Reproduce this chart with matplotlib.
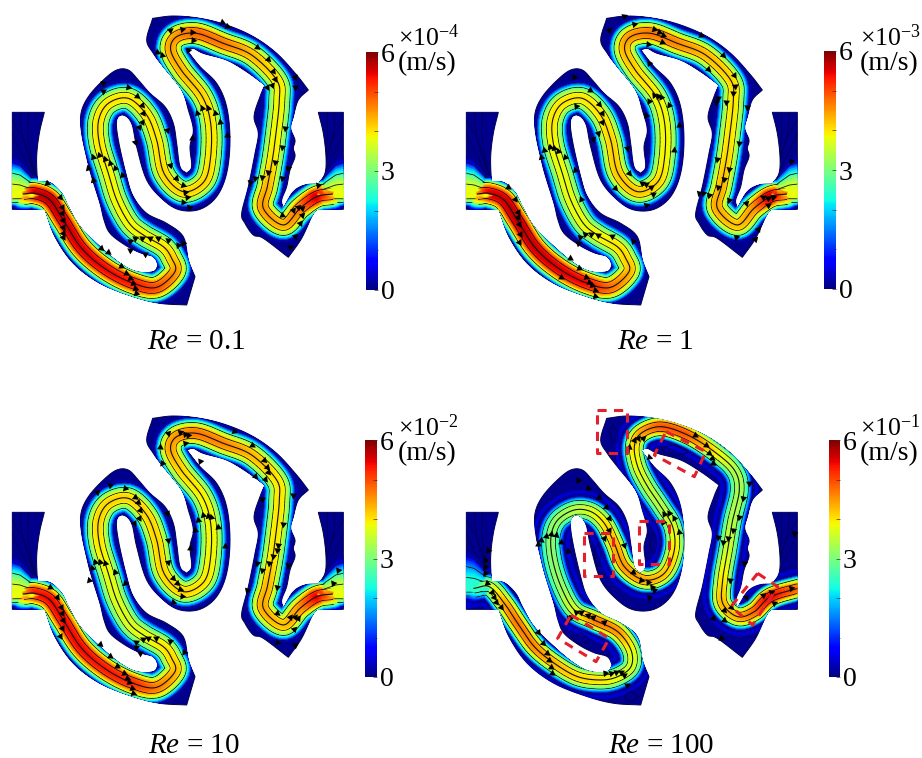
import numpy as np
import matplotlib
matplotlib.use("Agg")
import matplotlib.pyplot as plt
from matplotlib.collections import LineCollection
from matplotlib.patches import Polygon
from matplotlib.cm import ScalarMappable
from matplotlib.colors import Normalize

plt.rcParams['font.family'] = ['Liberation Serif', 'DejaVu Serif']
plt.rcParams['mathtext.fontset'] = 'custom'
plt.rcParams['mathtext.rm'] = 'Liberation Serif'
plt.rcParams['mathtext.it'] = 'Liberation Serif:italic'

# channel wall (3x zoom pixels)
wall_x = [37,133,118,110,112,150,185,205,240,300,360,410,460,475,460,420,375,330,312,300,275,262,245,243,265,310,350,385,415,450,495,520,530,540,560,575,570,580,565,545,490,460,440,458,520,600,680,760,830,890,925,895,880,872,885,880,885,870,860,845,850,880,915,955,975,978,970,955,1030,1030,950,935,905,865,790,760,735,725,745,765,775,762,780,795,740,680,610,580,560,600,650,680,690,680,650,600,540,490,440,410,395,370,350,355,380,400,440,500,550,565,585,560,480,400,300,220,165,135,37]
wall_y = [337,337,400,470,545,548,580,620,680,740,790,815,815,795,770,758,735,700,660,610,530,480,400,340,290,240,210,210,240,280,320,370,430,500,520,500,440,390,330,270,200,160,120,55,48,55,75,110,160,225,270,300,350,385,420,445,470,510,560,600,625,575,555,552,520,470,400,337,337,628,628,650,715,772,715,705,670,640,560,460,400,350,290,255,215,180,160,145,150,200,250,320,420,520,590,628,630,600,540,440,370,345,360,420,530,590,640,670,710,780,830,915,910,890,850,790,710,628,628]
wall_corners = [(37,337),(133,337),(112,545),(475,795),(560,915),(585,830),(458,55),(925,270),(850,625),(955,337),(1030,337),(1030,628),(950,628),(865,772),(135,628),(37,628),(560,520),(560,150),(795,255),(955,552)]

# channel centre line and centre speed, Re = 0.1, 1, 10
center_x = [70,105,150,190,245,318,400,470,525,515,490,430,388,350,325,298,296,325,385,440,470,492,550,612,632,632,607,545,512,530,590,670,755,830,838,828,817,802,790,850,900,950,997]
center_y = [582,580,600,660,745,808,850,862,815,775,740,705,670,600,520,430,360,310,295,345,420,520,575,545,470,370,290,212,150,110,100,130,165,240,300,400,480,560,625,675,625,590,582]
speed_01 = [4.4,5.6,5.7,5.6,5.5,5.4,5.3,5.0,4.5,4.2,4.0,3.9,3.9,3.9,3.9,4.0,4.0,4.0,4.0,4.0,4.0,4.1,4.1,4.1,4.0,4.0,4.1,4.3,4.4,4.5,4.8,4.7,4.3,4.0,3.9,3.9,4.0,4.3,4.5,4.3,4.7,5.6,4.6]
speed_1 = [4.4,5.5,5.6,5.7,5.6,5.5,5.4,4.8,4.3,4.1,4.0,3.9,3.8,3.8,3.8,3.9,4.0,4.0,4.0,4.0,4.1,4.2,4.2,4.1,3.9,3.9,3.9,4.1,4.3,4.5,4.7,4.6,4.3,4.1,4.0,4.0,4.1,4.3,4.4,4.2,4.5,5.7,4.6]
speed_10 = [4.4,5.3,5.4,5.4,5.4,5.3,5.2,4.7,4.3,4.1,4.0,3.8,3.7,3.7,3.8,4.0,4.1,4.1,4.1,4.1,4.1,4.1,4.1,4.0,3.9,3.9,3.9,4.1,4.4,4.5,4.7,4.6,4.3,4.0,4.0,4.0,4.0,4.3,4.4,4.2,4.5,5.5,4.6]

# centre line is different at Re = 100
center_x_100 = [60,106,151,191,241,301,371,441,491,531,531,491,421,361,321,296,291,311,361,411,451,481,511,571,631,661,656,621,581,551,541,561,621,701,781,841,856,836,821,806,806,851,901,951,1051]
center_y_100 = [565,560,610,670,740,790,830,840,830,800,750,695,660,630,560,480,410,360,330,335,370,430,500,540,520,450,380,320,260,200,140,100,80,105,155,210,270,360,450,540,610,650,635,590,560]
speed_100 = [2.4,3.5,4.4,4.7,4.6,4.3,4.1,4.0,3.8,3.6,3.8,4.5,4.7,3.7,3.2,3.1,3.1,3.2,3.4,3.7,4.0,4.3,4.5,4.4,4.2,4.0,3.7,3.4,3.5,3.8,4.0,4.4,4.9,4.9,4.0,3.4,3.3,3.4,3.6,4.0,4.3,4.3,4.8,5.5,4.6]

# contour bands across the channel: stroke width in px and share of the centre speed
band_width = [36,34,32,30,28,26,24,22,20,18,16,14,12,10,8,6,4,2]
band_share = [.03,.08,.16,.25,.36,.47,.56,.64,.71,.78,.84,.89,.93,.96,.98,.99,1.0,1.0]
stream_width = [30,20,10]

# inlet fan and the streamlines in the side blocks
fan_center = [585,585,585,565]
fan_top_x = [20,60,90,115]
fan_top_y = [-125,-108,-70,-32]
fan_low_y = [42,40,36,32]
block_lines_x = [[37,60,90,112],[37,70,95,112],[85,85,100,112],[62,66,88,112]]
block_lines_y = [[400,450,510,548],[360,420,500,545],[337,420,500,545],[337,400,470,545]]

# arrowheads, in the 3x zoom of each panel
arrow_01_x = [140,180,185,187,188,188,190,190,303,325,362,378,390,398,405,408,390,405,425,450,475,505,535,548,390,435,263,280,280,297,315,330,345,365,310,308,385,410,425,430,425,418,405,510,527,548,555,562,550,567,500,575,590,605,625,645,660,680,470,485,510,545,575,580,565,665,680,770,805,820,825,800,815,885,885,855,845,825,805,785,765,750,865,845,955,845,880,895,905,905,900,885,870]
arrow_01_y = [548,590,620,640,660,680,700,710,743,755,797,818,835,850,865,880,722,715,713,715,715,720,735,728,750,762,505,540,470,465,478,490,505,525,250,272,260,287,315,340,365,380,425,495,535,555,575,590,607,622,390,415,340,325,325,340,365,405,155,165,90,88,95,120,150,65,78,140,178,212,238,260,255,230,262,385,440,485,515,530,535,545,505,535,555,645,630,620,625,645,670,708,740]
arrow_1_x = [445,490,520,578,595,605,602,560,565,720,785,740,818,822,815,795,770,765,580,590,600,563,625,655,555,640,340,388,415,422,422,412,395,345,498,505,543,555,570,575,463,555,268,280,292,250,240,313,343,360,835,858,767,805,788,770,745,725,715,805,855,905,920,935,920,890,882,825,990,140,163,172,172,175,178,175,328,355,300,375,385,392,403,403,372,390,410,452,515,358,352]
arrow_1_y = [90,48,73,88,95,105,125,133,190,105,165,208,225,258,280,305,295,305,285,288,290,303,315,375,345,450,232,270,312,340,365,400,418,318,445,518,550,552,560,582,565,615,442,445,452,450,470,470,510,597,428,322,478,508,538,560,585,580,580,600,610,590,595,592,615,688,718,710,483,560,597,635,650,672,702,725,775,805,830,830,845,855,870,888,702,702,705,708,722,712,730]
arrow_10_x = [150,172,183,185,188,185,180,300,330,352,372,380,388,395,398,408,428,445,468,510,552,408,420,275,268,285,300,315,345,375,290,330,375,405,415,420,418,403,500,505,505,520,530,540,545,520,585,570,595,610,625,633,655,675,480,485,505,540,555,565,555,600,703,757,792,800,805,765,795,785,880,850,835,830,820,808,785,770,740,865,832,830,870,885,895,883,830,885,1000,1015]
arrow_10_y = [592,620,650,670,690,715,738,763,797,827,850,865,875,895,910,755,748,745,743,752,785,770,790,535,570,517,515,520,545,580,305,285,293,320,335,360,385,398,368,450,515,565,580,598,618,637,420,475,390,375,378,382,410,468,170,220,130,127,133,135,160,212,123,165,210,230,245,258,268,328,315,403,465,480,498,520,540,520,600,525,590,668,680,682,685,718,755,765,578,540]
arrow_100_x = [80,72,72,72,78,92,100,105,120,232,245,258,265,270,272,432,450,465,480,490,497,352,380,415,435,443,445,430,232,240,255,270,285,300,322,490,515,540,560,572,578,565,330,345,360,380,395,430,325,520,530,545,505,565,610,625,638,605,655,702,735,745,752,755,865,847,835,815,800,785,770,848,808,810,790,788,755,780,905,930,940,990,1000,855]
arrow_100_y = [480,510,530,550,580,605,620,635,650,725,760,790,810,830,848,850,850,845,845,855,885,270,293,322,350,385,420,445,462,450,437,432,435,455,482,465,545,570,575,590,600,620,680,665,665,675,680,695,685,150,143,145,170,200,372,368,385,395,425,135,165,190,205,218,278,325,380,420,445,455,440,520,570,650,660,690,685,745,615,605,640,595,430,620]

# dashed red boxes on the Re = 100 panel (3x zoom)
box_x = [[408,497,497,408],[615,735,700,580],[535,625,625,535],[368,455,455,368],[330,445,405,290],[890,950,875,810]]
box_y = [[60,60,190,190],[125,185,260,195],[392,392,522,522],[428,428,557,557],[675,745,815,745],[550,590,705,650]]
eddy_x = [[455,470,465,445,455],[578,588,578,568,578],[410,420,410,400,410],[360,385,360,335,360],[510,530,510,490,510],[640,680,640,600,640]]
eddy_y = [[105,130,160,130,105],[425,455,490,455,425],[460,495,530,495,460],[730,750,765,745,730],[905,920,935,920,905],[165,185,195,175,165]]

panel_x = [0,454,0,454]
panel_y = [0,0,400,400]
crop_x = [0,461,0,461]
crop_y = [0,0,390,390]
bar_left = [366,824,365,829]
bar_right = [378,836,377,840]
bar_top = [52,51,440,440]
bar_bottom = [290,289,677,677]
unit_x = [398,860,398,860]
unit_y = [38,38,428,428]
exponents = ['-4','-3','-2','-1']
captions = ['0.1','1','10','100']
caption_x = [196,655,194,661]
caption_y = [349,349,753,753]

W, H = 922, 758
jet = plt.get_cmap('jet')


def smooth(xs, ys, n=10):
    # catmull-rom through the points
    p = np.column_stack([xs, ys]).astype(float)
    if len(p) < 3:
        return p
    p = np.vstack([2 * p[0] - p[1], p, 2 * p[-1] - p[-2]])
    out = []
    for i in range(1, len(p) - 2):
        t = np.linspace(0, 1, n, endpoint=False)[:, None]
        out.append(0.5 * (2 * p[i] + (p[i + 1] - p[i - 1]) * t
                          + (2 * p[i - 1] - 5 * p[i] + 4 * p[i + 1] - p[i + 2]) * t ** 2
                          + (3 * p[i] - p[i - 1] - 3 * p[i + 1] + p[i + 2]) * t ** 3))
    out.append(p[-2:-1])
    return np.vstack(out)


def wall_outline():
    # spline between corners, keep corners sharp
    pts = list(zip(wall_x, wall_y))
    idx = sorted(pts.index(c) for c in wall_corners if c in pts)
    idx.append(idx[0] + len(pts))
    parts = []
    for a, b in zip(idx[:-1], idx[1:]):
        seg = [pts[i % len(pts)] for i in range(a, b + 1)]
        parts.append(smooth([s[0] for s in seg], [s[1] for s in seg], 6))
    return np.vstack(parts)


def to_px(pts, ox, oy):
    return np.column_stack([pts[:, 0] / 3 + ox, pts[:, 1] / 3 + oy])


fig = plt.figure(figsize=(W / 100, H / 100), dpi=100)
ax = fig.add_axes([0, 0, 1, 1])
ax.set_xlim(0, W)
ax.set_ylim(H, 0)
ax.axis('off')
PT = 0.72


def draw_fan_layer(ox, oy, mirror, peak, y0, wall, w, share):
    f = w / band_width[0]
    xs = np.array(fan_top_x + fan_top_x[::-1], float)
    ys = np.concatenate([y0 + np.array(fan_top_y) * f, (y0 + np.array(fan_low_y) * f)[::-1]])
    if mirror:
        xs = 1067 - xs
    p = to_px(np.column_stack([xs, ys]), ox, oy)
    edge = '#111111' if w in stream_width else 'none'
    # zorder 2 like the lines, else every fan goes under the bands
    pg = Polygon(p, closed=True, facecolor=jet(share * peak / 6), edgecolor=edge, lw=0.6, zorder=2)
    ax.add_patch(pg)
    pg.set_clip_path(wall)


def draw_core(ox, oy, cx, cy, speed, scale, wall, fans, y0):
    # fans are painted in the same layer as the band, so nothing covers the inner colours
    line = smooth(cx, cy, 8)
    u = np.linspace(0, len(cx) - 1, len(line))
    peak = np.interp(u, np.arange(len(cx)), speed)
    p = to_px(line, ox, oy)
    segs = np.stack([p[:-1], p[1:]], axis=1)
    mid = 0.5 * (peak[:-1] + peak[1:])
    for w, share in zip(band_width, band_share):
        ww = w * scale
        for mirror, fan_peak in fans:
            draw_fan_layer(ox, oy, mirror, fan_peak, y0, wall, w, share)
        if w in stream_width:
            ln, = ax.plot(p[:, 0], p[:, 1], color='#111111', lw=(ww + 1.7) * PT,
                          solid_joinstyle='round', solid_capstyle='butt')
            ln.set_clip_path(wall)
        lc = LineCollection(segs, colors=jet(mid * share / 6), linewidths=ww * PT, capstyle='round')
        ax.add_collection(lc)
        lc.set_clip_path(wall)
    ln, = ax.plot(p[:, 0], p[:, 1], color='#111111', lw=0.8)
    ln.set_clip_path(wall)
    return p


def draw_arrows(ax_x, ax_y, cxo, cyo, p):
    for x, y in zip(ax_x, ax_y):
        x0, y0 = x / 3 + cxo, y / 3 + cyo
        i = np.argmin((p[:, 0] - x0) ** 2 + (p[:, 1] - y0) ** 2)
        i = min(i, len(p) - 2)
        ang = np.degrees(np.arctan2(-(p[i + 1, 1] - p[i, 1]), p[i + 1, 0] - p[i, 0]))
        ax.plot(x0, y0, marker=(3, 0, ang - 90), ms=5.6, color='black', mew=0, zorder=5)


outline = wall_outline()
speeds = [speed_01, speed_1, speed_10, speed_100]
arrows = [(arrow_01_x, arrow_01_y), (arrow_1_x, arrow_1_y), (arrow_10_x, arrow_10_y), (arrow_100_x, arrow_100_y)]

for k in range(4):
    ox, oy = panel_x[k], panel_y[k]
    wall = Polygon(to_px(outline, ox, oy), closed=True, facecolor='#00008c', edgecolor='#000050', lw=0.7)
    ax.add_patch(wall)

    for bx, by in zip(block_lines_x, block_lines_y):
        for mirror in (False, True):
            xs = 1067 - np.array(bx) if mirror else np.array(bx)
            q = to_px(smooth(xs, by, 8), ox, oy)
            ln, = ax.plot(q[:, 0], q[:, 1], color='#00004c', lw=0.5)
            ln.set_clip_path(wall)

    if k < 3:
        p = draw_core(ox, oy, center_x, center_y, speeds[k], 1.0, wall, [(False, 3.8), (True, 3.8)], fan_center[k])
    else:
        halo = to_px(smooth(center_x_100, center_y_100, 8), ox, oy)
        ln, = ax.plot(halo[:, 0], halo[:, 1], color=jet(0.07), lw=38 * PT, solid_joinstyle='round')
        ln.set_clip_path(wall)
        p = draw_core(ox, oy, center_x_100, center_y_100, speeds[k], 0.85, wall, [(False, 2.4)], fan_center[k])
        for ex, ey in zip(eddy_x, eddy_y):
            q = smooth(ex, ey, 8) / 3 + np.array([crop_x[k], crop_y[k]])
            ax.plot(q[:, 0], q[:, 1], color='#00004c', lw=0.6)
        for bx, by in zip(box_x, box_y):
            q = np.column_stack([bx + bx[:1], by + by[:1]]) / 3 + np.array([crop_x[k], crop_y[k]])
            ax.plot(q[:, 0], q[:, 1], color='#e3202c', lw=2.2, ls=(0, (3, 2.4)), zorder=6)

    draw_arrows(arrows[k][0], arrows[k][1], crop_x[k], crop_y[k], p)

    # colour bar
    cax = fig.add_axes([bar_left[k] / W, 1 - bar_bottom[k] / H,
                        (bar_right[k] - bar_left[k]) / W, (bar_bottom[k] - bar_top[k]) / H])
    cb = fig.colorbar(ScalarMappable(Normalize(0, 6), jet), cax=cax, ticks=[0, 1, 2, 3, 4, 5, 6])
    cb.outline.set_visible(False)
    cb.ax.set_yticklabels(['0', '', '', '3', '', '', '6'], fontsize=20)
    cb.ax.tick_params(direction='in', length=3, width=0.5, color='#333333', pad=2)

    ax.text(unit_x[k], unit_y[k], '×10$^{\\mathrm{' + exponents[k] + '}}$', fontsize=18.5, va='center', ha='left')
    ax.text(unit_x[k], unit_y[k] + 26, '(m/s)', fontsize=20, va='center', ha='left')
    ax.text(caption_x[k], caption_y[k], '$\\mathit{Re}$ = ' + captions[k], fontsize=21, va='baseline', ha='center')

fig.savefig('out.png', dpi=100)
